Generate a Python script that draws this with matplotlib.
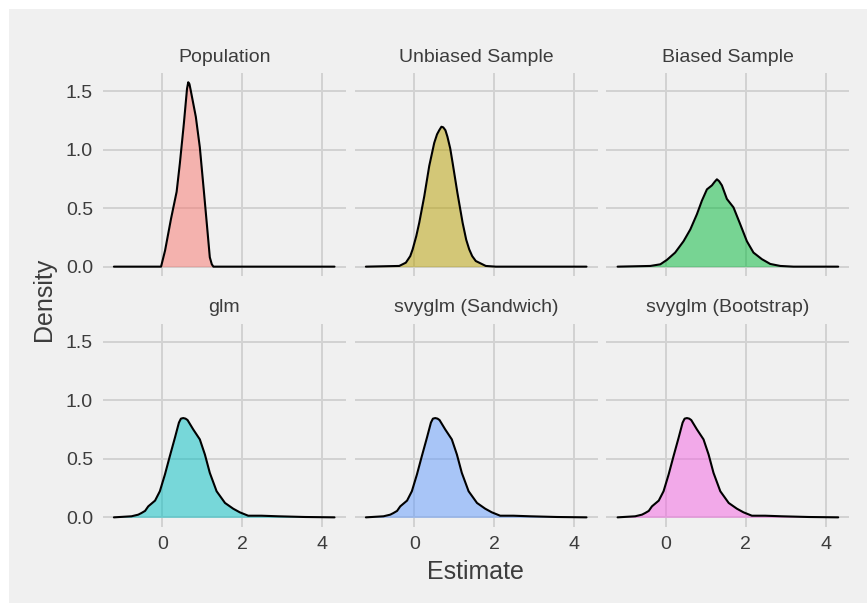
import matplotlib
matplotlib.use("Agg")
import matplotlib.pyplot as plt
from matplotlib.patches import Rectangle

plt.rcParams['font.family'] = ['Liberation Sans', 'DejaVu Sans']

# ---- data ----
panel_titles = ["Population", "Unbiased Sample", "Biased Sample",
                "glm", "svyglm (Sandwich)", "svyglm (Bootstrap)"]
fill_colors = ["#F8766D", "#B79F00", "#00BA38", "#00BFC4", "#619CFF", "#F564E3"]

pop_x = [-1.21, -0.03, 0.07, 0.22, 0.36, 0.44, 0.54, 0.62, 0.65, 0.68, 0.71, 0.84, 0.94, 1.04, 1.13, 1.19, 1.24, 1.28, 4.31]
pop_y = [0, 0, 0.137, 0.41, 0.64, 0.88, 1.22, 1.52, 1.575, 1.56, 1.51, 1.28, 1.02, 0.65, 0.31, 0.08, 0.02, 0, 0]

unb_x = [-1.21, -0.375, -0.21, -0.1, -0.04, 0.05, 0.125, 0.25, 0.375, 0.5, 0.57, 0.625, 0.68, 0.725, 0.78,
         0.83, 0.9, 0.96, 1.08, 1.21, 1.3, 1.375, 1.45, 1.54, 1.79, 2.04, 4.31]
unb_y = [0, 0.006, 0.034, 0.09, 0.148, 0.26, 0.375, 0.60, 0.86, 1.057, 1.13, 1.165, 1.195, 1.19, 1.165,
         1.11, 1.01, 0.886, 0.63, 0.375, 0.23, 0.148, 0.09, 0.048, 0.006, 0.0, 0]

bia_x = [-1.21, -0.39, -0.14, 0.025, 0.23, 0.44, 0.61, 0.775, 0.9, 1.025, 1.15, 1.22, 1.275, 1.33, 1.4,
         1.525, 1.69, 1.86, 2.025, 2.19, 2.4, 2.61, 2.86, 3.19, 4.31]
bia_y = [0, 0.006, 0.02, 0.058, 0.12, 0.217, 0.318, 0.448, 0.564, 0.66, 0.694, 0.725, 0.746, 0.73, 0.694,
         0.578, 0.506, 0.361, 0.217, 0.12, 0.064, 0.023, 0.006, 0, 0]

glm_x = [-1.21, -0.77, -0.6, -0.52, -0.43, -0.35, -0.18, -0.06, 0.067, 0.19, 0.317, 0.417, 0.467, 0.525,
         0.583, 0.633, 0.775, 0.94, 1.067, 1.19, 1.36, 1.57, 1.775, 1.94, 2.15, 2.48, 2.9, 3.57, 4.31]
glm_y = [0, 0.009, 0.023, 0.037, 0.055, 0.094, 0.143, 0.223, 0.366, 0.523, 0.68, 0.809, 0.843, 0.848,
         0.843, 0.831, 0.751, 0.666, 0.537, 0.38, 0.223, 0.123, 0.074, 0.043, 0.014, 0.014, 0.009, 0.003, 0]

# svyglm estimates are the same point estimates as glm
sand_x, sand_y = glm_x, glm_y
boot_x, boot_y = glm_x, glm_y

series = [(pop_x, pop_y), (unb_x, unb_y), (bia_x, bia_y),
          (glm_x, glm_y), (sand_x, sand_y), (boot_x, boot_y)]

x_ticks = [0, 2, 4]
y_ticks = [0.0, 0.5, 1.0, 1.5]
y_tick_labels = ["0.0", "0.5", "1.0", "1.5"]

# ---- style / layout ----
W, H = 867, 605
BG = "#F0F0F0"
GRID = "#D2D2D2"
TXT = "#3C3C3C"

fig = plt.figure(figsize=(W / 100, H / 100), dpi=100)
fig.patch.set_facecolor("white")
fig.patches.append(Rectangle((9 / W, 2 / H), (W - 9) / W, (H - 11) / H,
                             transform=fig.transFigure, facecolor=BG, edgecolor="none", zorder=-10))

panel_w, panel_h = 243.0, 202.9
lefts = [102.7, 354.7, 606.4]
tops = [73.0, 323.7]

for i, (title, col, (xs, ys)) in enumerate(zip(panel_titles, fill_colors, series)):
    r, c = divmod(i, 3)
    l = lefts[c]
    t = tops[r]
    ax = fig.add_axes([l / W, 1 - (t + panel_h) / H, panel_w / W, panel_h / H])
    ax.set_facecolor(BG)
    ax.patch.set_alpha(0)
    for s in ax.spines.values():
        s.set_visible(False)
    ax.set_xlim(-1.49, 4.59)
    ax.set_ylim(-0.079, 1.654)
    ax.set_xticks(x_ticks)
    ax.set_yticks(y_ticks)
    ax.grid(True, color=GRID, linewidth=1.4)
    ax.set_axisbelow(True)
    ax.tick_params(length=0, labelsize=14, labelcolor=TXT, pad=7)
    if c == 0:
        ax.set_yticklabels(y_tick_labels)
    else:
        ax.set_yticklabels([])
    if r == 1:
        ax.set_xticklabels([str(v) for v in x_ticks])
    else:
        ax.set_xticklabels([])
    ax.fill_between(xs, ys, 0, color=col, alpha=0.5, linewidth=0, zorder=2)
    ax.plot(xs, ys, color="black", linewidth=1.5, solid_joinstyle="round",
            solid_capstyle="round", zorder=3)
    ax.text(0.5, 1 + 11.5 / panel_h, title, transform=ax.transAxes, ha="center",
            va="baseline", fontsize=14, color=TXT)

fig.text(475 / W, 1 - 579.3 / H, "Estimate", ha="center", va="baseline", fontsize=18, color=TXT)
fig.text(44 / W, 1 - 299.5 / H, "Density", ha="center", va="center", rotation=90,
         fontsize=18, color=TXT)

fig.savefig("out.png", dpi=100, facecolor=fig.get_facecolor())
